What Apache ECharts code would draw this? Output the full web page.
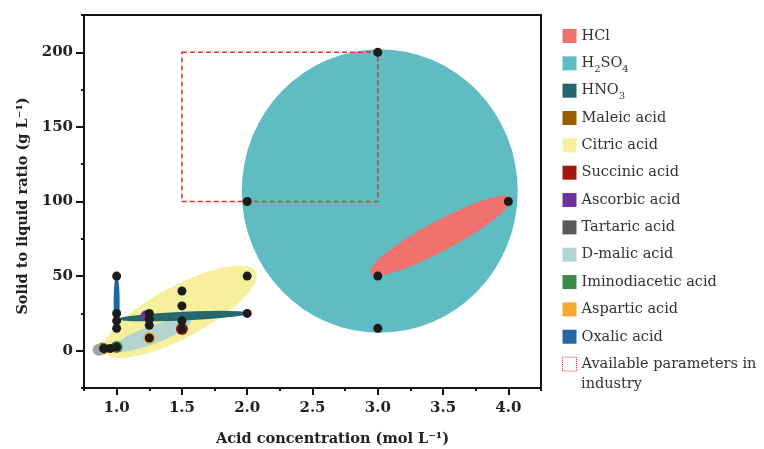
<!DOCTYPE html>
<html>
<head>
<meta charset="utf-8">
<script src="https://cdn.jsdelivr.net/npm/echarts@6/dist/echarts.min.js"></script>
<style>
html,body{margin:0;padding:0;background:#fff;}
#chart{width:764px;height:449px;}
</style>
</head>
<body>
<div id="chart"></div>
<script>
// ---------------- data ----------------
const xMajorTicks = [1.0, 1.5, 2.0, 2.5, 3.0, 3.5, 4.0];
const xMinorTicks = [0.75, 1.25, 1.75, 2.25, 2.75, 3.25, 3.75, 4.25];
const yMajorTicks = [0, 50, 100, 150, 200];
const yMinorTicks = [-25, 25, 75, 125, 175, 225];

// acids drawn as elongated regions: major-axis end points in data units
const regionNames = ['H2SO4', 'HCl', 'Citric acid', 'D-malic acid', 'HNO3', 'Oxalic acid'];
const regionStart = [[3.015, 12], [2.944, 52], [0.91, -0.7], [0.965, 0.7], [1.005, 21.2], [1.0, 12]];
const regionEnd   = [[3.015, 202], [4.022, 102.4], [2.065, 53], [1.568, 20.1], [2.02, 25.2], [1.0, 51.5]];

// acids with a single reported condition
const singleNames  = ['Maleic acid', 'Succinic acid', 'Ascorbic acid', 'Tartaric acid', 'Iminodiacetic acid', 'Aspartic acid'];
const singlePoints = [[0.893, 1.5], [1.5, 14.5], [1.225, 23.4], [0.862, 0.6], [1.0, 2.5], [1.25, 8.5]];

// reported leaching conditions (black dots)
const conditionPoints = [
  [3, 200], [2, 100], [3, 50], [3, 15], [4, 100],
  [1, 50], [1, 25], [1, 20], [1, 15],
  [1.25, 25], [1.25, 21], [1.25, 17], [1.25, 8.5],
  [1.5, 40], [1.5, 30], [1.5, 20], [1.5, 14.5],
  [2, 50], [2, 25],
  [0.9, 1.5], [0.95, 1.5], [1.0, 2.5]
];

// industrial window
const industryX = [1.5, 3.0];
const industryY = [100, 200];

const legendOrder = ['HCl', 'H2SO4', 'HNO3', 'Maleic acid', 'Citric acid', 'Succinic acid', 'Ascorbic acid',
  'Tartaric acid', 'D-malic acid', 'Iminodiacetic acid', 'Aspartic acid', 'Oxalic acid', 'Available parameters in industry'];

// ---------------- style ----------------
const colors = {
  'HCl': '#f0716d', 'H2SO4': '#5fbcc3', 'HNO3': '#26676b', 'Maleic acid': '#9a5c02',
  'Citric acid': '#f6f09c', 'Succinic acid': '#a51612', 'Ascorbic acid': '#7031a0',
  'Tartaric acid': '#5b5b5b', 'D-malic acid': '#b2d5d1', 'Iminodiacetic acid': '#3c8a47',
  'Aspartic acid': '#f8a830', 'Oxalic acid': '#22679f'
};
const halfWidthPx = {'H2SO4': 138, 'HCl': 15, 'Citric acid': 26, 'D-malic acid': 9, 'HNO3': 4.3, 'Oxalic acid': 3};
const regionZ = {'H2SO4': 1, 'HCl': 2, 'Citric acid': 3, 'D-malic acid': 4, 'HNO3': 5, 'Oxalic acid': 6};
const SERIF = "'DejaVu Serif', 'Liberation Serif', serif";

function ellipseRenderer(name) {
  return function (params, api) {
    const p1 = api.coord([api.value(0), api.value(1)]);
    const p2 = api.coord([api.value(2), api.value(3)]);
    const dx = p2[0] - p1[0], dy = p2[1] - p1[1];
    const a = Math.sqrt(dx * dx + dy * dy) / 2;
    const b = halfWidthPx[name];
    return {
      type: 'circle',
      x: (p1[0] + p2[0]) / 2,
      y: (p1[1] + p2[1]) / 2,
      rotation: -Math.atan2(dy, dx),
      scaleX: 1,
      scaleY: b / a,
      shape: {cx: 0, cy: 0, r: a},
      style: {fill: colors[name]}
    };
  };
}

const series = [];
regionNames.forEach(function (name, i) {
  series.push({
    name: name,
    type: 'custom',
    z: regionZ[name],
    itemStyle: {color: colors[name]},
    encode: {x: [0, 2], y: [1, 3]},
    data: [[regionStart[i][0], regionStart[i][1], regionEnd[i][0], regionEnd[i][1]]],
    renderItem: ellipseRenderer(name),
    silent: true
  });
});
singleNames.forEach(function (name, i) {
  series.push({
    name: name,
    type: 'scatter',
    z: 7,
    symbol: 'circle',
    symbolSize: name === 'Ascorbic acid' ? 11 : 12,
    itemStyle: {color: name === 'Tartaric acid' ? '#a4a4a4' : colors[name], opacity: 1},
    data: [singlePoints[i]],
    silent: true
  });
});
series.push({
  name: 'Available parameters in industry',
  type: 'custom',
  z: 8,
  itemStyle: {color: '#ffffff', borderColor: '#e8302c', borderWidth: 1, borderType: 'dotted'},
  encode: {x: [0, 2], y: [1, 3]},
  data: [[industryX[0], industryY[0], industryX[1], industryY[1]]],
  renderItem: function (params, api) {
    const p1 = api.coord([api.value(0), api.value(1)]);
    const p2 = api.coord([api.value(2), api.value(3)]);
    return {
      type: 'rect',
      shape: {x: p1[0], y: p2[1], width: p2[0] - p1[0], height: p1[1] - p2[1]},
      style: {fill: 'none', stroke: '#e8302c', lineWidth: 1.5, lineDash: [5, 3]}
    };
  },
  silent: true
});
series.push({
  name: 'conditions',
  type: 'scatter',
  z: 9,
  symbol: 'circle',
  symbolSize: 9,
  itemStyle: {color: '#1c1c1c', opacity: 1},
  data: conditionPoints,
  silent: true
});

const legendData = legendOrder.map(function (name) {
  if (name === 'Available parameters in industry') {
    return {name: name, icon: 'rect', itemStyle: {color: '#ffffff', borderColor: '#e8302c', borderWidth: 1, borderType: 'dotted', opacity: 1}};
  }
  return {name: name, icon: 'rect', itemStyle: {color: colors[name], opacity: 1}};
});

const axisText = {fontFamily: SERIF, fontWeight: 'bold', fontSize: 15, color: '#222'};
const lineDark = {color: '#141414', width: 2};

const option = {
  backgroundColor: '#ffffff',
  animation: false,
  grid: {left: 84, right: 223, top: 15, bottom: 61, show: true, borderColor: '#141414', borderWidth: 2,
         containLabel: false, outerBoundsMode: 'none'},
  legend: {
    orient: 'vertical',
    left: 562,
    top: 25,
    padding: 0,
    itemWidth: 14,
    itemHeight: 14,
    itemGap: 5.34,
    selectedMode: false,
    data: legendData,
    textStyle: {
      fontFamily: SERIF, fontSize: 14.5, color: '#333', lineHeight: 22,
      rich: {
        n: {fontFamily: SERIF, fontSize: 14.5, color: '#333', lineHeight: 22},
        s: {fontFamily: SERIF, fontSize: 10, color: '#333', lineHeight: 15, verticalAlign: 'bottom'}
      }
    },
    formatter: function (name) {
      if (name === 'H2SO4') return '{n|H}{s|2}{n|SO}{s|4}';
      if (name === 'HNO3') return '{n|HNO}{s|3}';
      if (name === 'Available parameters in industry') return 'Available parameters in';
      return name;
    }
  },
  graphic: [{
    type: 'text', left: 581, top: 377,
    style: {text: 'industry', font: "14.5px 'DejaVu Serif', serif", fill: '#333'}
  }],
  xAxis: [{
    type: 'value', min: 0.75, max: 4.25, position: 'bottom',
    name: 'Acid concentration (mol L\u207B\u00B9)', nameLocation: 'middle', nameGap: 44,
    nameTextStyle: {fontFamily: SERIF, fontWeight: 'bold', fontSize: 14.5, color: '#222', padding: [0, 0, 0, 40]},
    axisLine: {show: true, onZero: false, lineStyle: lineDark},
    axisTick: {show: true, length: 7, customValues: xMajorTicks, lineStyle: lineDark},
    axisLabel: {show: true, customValues: xMajorTicks, margin: 13, formatter: function (v) { return v.toFixed(1); }, ...axisText},
    splitLine: {show: false}
  }, {
    type: 'value', min: 0.75, max: 4.25, position: 'bottom',
    axisLine: {show: false, onZero: false},
    axisTick: {show: true, length: 3, customValues: xMinorTicks, lineStyle: lineDark},
    axisLabel: {show: false},
    splitLine: {show: false}
  }],
  yAxis: [{
    type: 'value', min: -25, max: 225, position: 'left',
    name: 'Solid to liquid ratio (g L\u207B\u00B9)', nameLocation: 'middle', nameGap: 50,
    nameTextStyle: {fontFamily: SERIF, fontWeight: 'bold', fontSize: 14.5, color: '#222', padding: [0, 9, 0, 0]},
    axisLine: {show: true, onZero: false, lineStyle: lineDark},
    axisTick: {show: true, length: 8, customValues: yMajorTicks, lineStyle: lineDark},
    axisLabel: {show: true, customValues: yMajorTicks, margin: 11, ...axisText},
    splitLine: {show: false}
  }, {
    type: 'value', min: -25, max: 225, position: 'left',
    axisLine: {show: false, onZero: false},
    axisTick: {show: true, length: 3, customValues: yMinorTicks, lineStyle: lineDark},
    axisLabel: {show: false},
    splitLine: {show: false}
  }],
  series: series.map(function (s) { return Object.assign({xAxisIndex: 0, yAxisIndex: 0}, s); })
};

const chart = echarts.init(document.getElementById('chart'), null, {renderer: 'canvas'});
chart.setOption(option);
</script>
</body>
</html>
